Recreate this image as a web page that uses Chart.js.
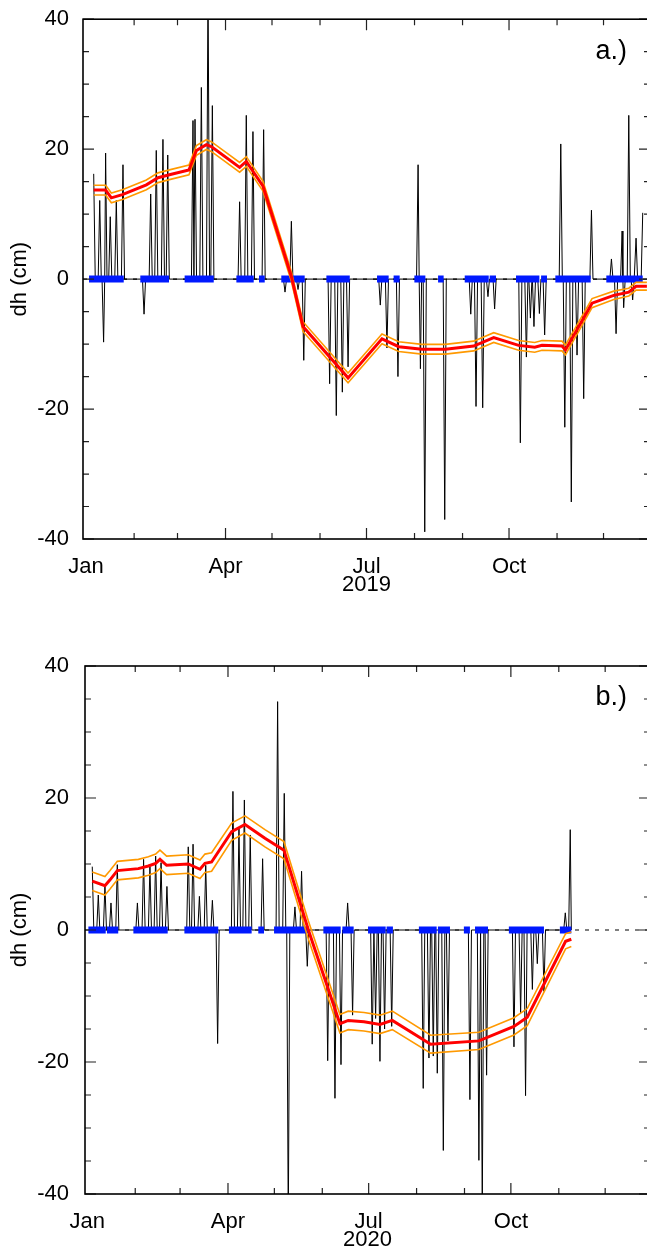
<!DOCTYPE html>
<html lang="en">
<head>
<meta charset="UTF-8">
<title>dh 2019 / 2020</title>
<script src="https://cdn.jsdelivr.net/npm/chart.js"></script>
<style>
    body {
        margin: 0;
        padding: 0;
        background: white;
        overflow: hidden;
    }
    canvas {
        position: absolute;
        left: 0;
    }
</style>
</head>
<body>
<canvas id="chartA" width="652" height="598" style="top:0px"></canvas>
<canvas id="chartB" width="652" height="613" style="top:640px"></canvas>
<script>
    // ticks: first day of each month, only Jan/Apr/Jul/Oct are labelled
    const monthStart2019 = [0, 31, 59, 90, 120, 151, 181, 212, 243, 273, 304, 334];
    const monthStart2020 = [0, 31, 60, 91, 121, 152, 182, 213, 244, 274, 305, 335];
    const monthLabels = ['Jan', '', '', 'Apr', '', '', 'Jul', '', '', 'Oct', '', ''];
    const yMajor = [-40, -20, 0, 20, 40];

    // ---- 2019 (a.) ----
    // daily dh (black), day of year
    const dayA = [4.9, 5.9, 7.8, 8.8, 9.8, 10.3, 11.3, 12.0, 12.6, 13.5, 14.6, 15.6, 16.6, 18.5, 19.5, 20.5, 22.8, 23.8, 24.8,
        36.4, 37.4, 38.4, 40.7, 41.7, 42.7, 44.3, 45.3, 46.3, 48.6, 49.6, 50.6, 51.7, 52.7, 53.7,
        68, 69, 69.6, 70.3, 71.3, 73.4, 74.4, 75.4, 77.7, 78.7, 79.7, 80.5, 81.5, 82.5,
        98.1, 99.1, 100.1, 102.4, 103.4, 104.4, 106.7, 107.7, 108.7,
        113.6, 114.6, 115.6,
        127.4, 128.4, 129.4, 131.5, 132.5, 133.5, 135.8, 136.8, 137.8, 139.5, 140.5, 141.5,
        156.2, 157.2, 158.2, 160.5, 161.5, 162.5, 164.4, 165.4, 166.4, 168.1, 169.1, 170.1,
        188.9, 189.9, 190.9, 193.2, 194.2, 195.2, 200.3, 201.3, 202.3, 213.3, 214.3, 215.0, 215.8, 216.6, 217.6, 218.6, 219.6, 230.5, 231.5, 232.5,
        247.3, 248.3, 249.3, 250.7, 251.7, 252.7, 255, 256, 257, 258.4, 259.4, 260.4, 262.7, 263.7, 264.7,
        279.3, 280.3, 281.3, 283.2, 284.2, 285.2, 285.8, 286.8, 287.8, 288.1, 289.1, 290.1, 291.6, 292.6, 293.6, 295, 296, 297,
        305.4, 306.4, 307.4, 308, 309, 310, 312.2, 313.2, 314.2, 315.9, 316.9, 317.9, 320.2, 321.2, 322.2, 325.2, 326.2, 327.2,
        338.1, 339.1, 340.1, 341.1, 342.1, 343.1, 345, 346, 346.5, 347, 348, 349.3, 350.3, 351.3, 351.8, 352.8, 353.8, 354, 355, 356, 358.3, 359.3];
    const dhA = [16.2, 0, 0, 12.1, 0, 0, -9.7, 0, 19.4, 0, 0, 9.6, 0, 0, 12.1, 0, 0, 17.6, 0,
        0, -5.4, 0, 0, 13.1, 0, 0, 19.8, 0, 0, 21.5, 0, 0, 19.1, 0,
        0, 24.4, 0, 24.6, 0, 0, 29.5, 0, 0, 46, 0, 0, 26.7, 0,
        0, 11.9, 0, 0, 25.2, 0, 0, 22.7, 0,
        0, 23, 0,
        0, -2, 0, 0, 8.9, 0, 0, -1.6, 0, 0, -12.5, 0,
        0, -16.1, 0, 0, -21, 0, 0, -17.4, 0, 0, -13.5, 0,
        0, -4, 0, 0, -10.6, 0, 0, -15, 0, 0, 17.6, 0, -13.8, 0, 0, -38.9, 0, 0, -37, 0,
        0, -5.4, 0, 0, -19.6, 0, 0, -19.8, 0, 0, -2.7, 0, 0, -4.6, 0,
        0, -25.2, 0, 0, -12, 0, 0, -6, 0, 0, -7.3, 0, 0, -5.3, 0, 0, -8.6, 0,
        0, 20.8, 0, 0, -22.8, 0, 0, -34.3, 0, 0, -11.7, 0, 0, -18.4, 0, 0, 10.6, 0,
        0, 3.1, 0, 0, -8.4, 0, 0, 7.4, 0, -4.4, 0, 0, 25.2, 0, 0, -3.2, 0, 0, 6.3, 0, 0, 10.2];
    // smoothed curve (red) and its uncertainty (orange = red +/- err)
    const redDayA = [4.9, 12.6, 16.3, 23.4, 38.9, 46.4, 54.4, 66.4, 71.2, 77.6, 80.8, 99.1, 103.4, 114.2, 132.5, 140, 169.1,
        191, 201.8, 216.8, 231.9, 250.2, 263.1, 279.2, 289.6, 294.3, 307.2, 309.4, 326.6, 340.6, 350.3, 355, 362];
    const redA = [13.7, 13.7, 12.5, 13.0, 14.5, 15.6, 16.1, 16.8, 19.8, 20.7, 20.4, 17.2, 18.1, 14.3, 0.4, -7.3, -15.2,
        -9.2, -10.4, -10.8, -10.8, -10.3, -9.0, -10.2, -10.5, -10.2, -10.3, -10.9, -3.7, -2.5, -2.0, -1.1, -1.1];
    const errA = [0.75, 0.75, 0.75, 0.75, 0.75, 0.75, 0.75, 0.75, 0.75, 0.75, 0.75, 0.75, 0.75, 0.75, 0.75, 0.75, 0.75,
        0.75, 0.75, 0.75, 0.75, 0.75, 0.75, 0.75, 0.75, 0.75, 0.75, 0.75, 0.7, 0.65, 0.6, 0.6, 0.6];
    // blue observation runs at dh = 0 (start / end day)
    const blueStartA = [1.9, 35, 63.6, 97, 111.6, 126, 155.1, 187.8, 198.5, 211.9, 227.2, 244.4, 260.5, 277.5, 293.7, 302.9, 335.8];
    const blueEndA = [24.3, 53.5, 82.4, 108.2, 115.3, 141.1, 170.2, 195.3, 202.4, 219, 230.8, 259.9, 264.6, 292.6, 297.5, 325.7, 359.3];

    // ---- 2020 (b.) ----
    const dayB = [3.2, 4.2, 6.1, 7.1, 8.1, 10.4, 11.4, 12.4, 14.3, 15.3, 16.3, 18.4, 19.4, 20.4,
        31.4, 32.4, 33.4, 35.4, 36.4, 37.4, 39.5, 40.5, 41.5, 43.2, 44.2, 45.2, 46.7, 47.7, 48.7, 50.5, 51.5, 52.5,
        64.3, 65.3, 66.3, 67.4, 68.4, 69.4, 71.5, 72.5, 73.5, 75.6, 76.6, 77.6, 79.9, 80.9, 81.9, 83.3, 84.3, 85.3,
        93.2, 94.2, 95.2, 97.1, 98.1, 99.1, 100.6, 101.6, 102.6, 104.4, 105.4, 106.4, 112.4, 113.4, 114.4,
        122.1, 123.1, 124.1, 126.4, 127.4, 128.4, 129, 130, 131, 133.3, 134.3, 135.3, 137.6, 138.6, 139.6, 141.3, 142.3, 143.3,
        154.5, 155.5, 156.5, 159.2, 160.2, 161.2, 163.1, 164.1, 165.1, 167.4, 168.4, 169.4, 170.6, 171.6, 172.6,
        183.3, 184.3, 185.4, 186.5, 187.5, 188.3, 189.3, 190.3, 191.3, 192.3, 193.3, 195.9, 196.9, 197.9,
        216.3, 217.3, 218.3, 220, 221, 222, 222.8, 223.8, 224.8, 225.4, 226.4, 227.4, 229.3, 230.3, 231.3, 232.3, 233.3, 234.3,
        246.5, 247.5, 248.5, 252.3, 253.3, 254.4, 255.5, 256.5, 257.3, 258.3, 259.3,
        275, 276, 277, 279.3, 280.3, 281.3, 282.5, 283.5, 284.5, 286.9, 287.9, 288.9, 290.1, 291.1, 292.1, 294.4, 295.4, 296.4,
        308.2, 309.2, 310.2, 311.4, 312.4, 313.1];
    const dhB = [9.6, 0, 0, 5.3, 0, 0, 6.8, 0, 0, 4.1, 0, 0, 9.9, 0,
        0, 4.1, 0, 0, 10.7, 0, 0, 9.6, 0, 0, 11.2, 0, 0, 10.2, 0, 0, 6.6, 0,
        0, 12.6, 0, 0, 13, 0, 0, 5.1, 0, 0, 9.8, 0, 0, 4.5, 0, 0, -17.2, 0,
        0, 21, 0, 0, 15.3, 0, 0, 19.7, 0, 0, 14.4, 0, 0, 10.8, 0,
        0, 34.6, 0, 0, 20.7, 0, 0, -45, 0, 0, 3.5, 0, 0, 8.9, 0, 0, -5.5, 0,
        0, -19.8, 0, 0, -25.5, 0, 0, -20.4, 0, 0, 4.1, 0, 0, -12.9, 0,
        0, -17.3, 0, -13.4, 0, 0, -19.9, 0, 0, -15, 0, 0, -14.6, 0,
        0, -24, 0, 0, -19.4, 0, 0, -19.1, 0, 0, -21.7, 0, 0, -33.4, 0, 0, -16.8, 0,
        0, -25.7, 0, 0, -34.9, 0, -42, 0, 0, -22, 0,
        0, -17.7, 0, 0, -12.6, 0, 0, -25.1, 0, 0, -9, 0, 0, -5.1, 0, 0, -9.3, 0,
        0, 2.6, 0, 0, 15.2, 0];
    const redDayB = [3.2, 11.4, 14.7, 19.4, 33, 39.5, 44.2, 47, 51.3, 65.3, 72.9, 76.1, 80.4, 93.4, 102, 114.9, 127.2, 143,
        163.4, 168.8, 179, 189.3, 197.3, 222.1, 253.3, 276, 284.6, 309.4, 313.1];
    const redB = [7.4, 6.7, 7.6, 9.0, 9.3, 9.7, 10.1, 10.7, 9.8, 10.0, 9.2, 10.1, 10.3, 14.9, 16.0, 13.9, 12.1, 0,
        -14.2, -13.7, -13.9, -14.3, -13.7, -17.3, -16.8, -14.6, -13.2, -1.7, -1.4];
    const errB = [1.4, 1.4, 1.4, 1.4, 1.4, 1.4, 1.4, 1.4, 1.4, 1.4, 1.4, 1.4, 1.4, 1.3, 1.3, 1.3, 1.3, 1.35,
        1.4, 1.4, 1.4, 1.4, 1.4, 1.35, 1.3, 1.3, 1.3, 1.15, 1.1];
    const blueStartB = [0.7, 12.7, 29.8, 62.8, 91.6, 110.6, 120.8, 152.7, 165, 181.6, 193.6, 214.5, 226.8, 243.6, 250.8, 272.7, 305.7];
    const blueEndB = [11.9, 20, 52, 84.7, 106.3, 114.3, 143, 163.9, 172.3, 193, 197.7, 226, 234.6, 247.5, 259.2, 295.4, 313.1];

    Chart.defaults.color = 'black';
    Chart.defaults.font.family = '"Liberation Sans", Arial, Helvetica, sans-serif';

    // frame with inward ticks on all four sides + panel letter
    const frameTicks = {
        id: 'frameTicks',
        afterDraw(chart, args, opts) {
            const ctx = chart.ctx;
            const a = chart.chartArea;
            const xs = chart.scales.x;
            const ys = chart.scales.y;
            ctx.save();
            ctx.strokeStyle = '#222';
            ctx.lineWidth = 1.2;
            ctx.beginPath();
            for (let v = -40; v <= 40; v += 5) {
                const y = ys.getPixelForValue(v);
                const len = (v % 20 === 0) ? 11 : 6;
                ctx.moveTo(a.left, y); ctx.lineTo(a.left + len, y);
                ctx.moveTo(a.right, y); ctx.lineTo(a.right - len, y);
            }
            opts.months.forEach((d, i) => {
                const x = xs.getPixelForValue(d);
                if (x < a.left + 4) return;
                const len = monthLabels[i] ? 11 : 6;
                ctx.moveTo(x, a.bottom); ctx.lineTo(x, a.bottom - len);
                ctx.moveTo(x, a.top); ctx.lineTo(x, a.top + len);
            });
            ctx.stroke();
            ctx.strokeStyle = 'black';
            ctx.lineWidth = 1.6;
            ctx.strokeRect(a.left, a.top, a.right - a.left, a.bottom - a.top);
            ctx.fillStyle = 'black';
            ctx.font = '27px "Liberation Sans", Arial, sans-serif';
            ctx.textAlign = 'right';
            ctx.textBaseline = 'middle';
            ctx.fillText(opts.label, a.right - 23, a.top + 32);
            ctx.restore();
        }
    };

    function points(xs, ys) {
        return xs.map((x, i) => ({ x: x, y: ys[i] }));
    }

    function makePanel(id, p) {
        var red = points(p.redDay, p.red);
        var upper = p.redDay.map((x, i) => ({ x: x, y: p.red[i] + p.err[i] }));
        var lower = p.redDay.map((x, i) => ({ x: x, y: p.red[i] - p.err[i] }));
        var blue = [];
        for (var i = 0; i < p.blueStart.length; i++) {
            blue.push({ x: p.blueStart[i], y: 0 }, { x: p.blueEnd[i], y: 0 }, { x: p.blueEnd[i], y: null });
        }
        var zero = [{ x: p.xMin, y: 0 }, { x: p.xMax, y: 0 }];

        return new Chart(document.getElementById(id), {
            type: 'line',
            data: {
                datasets: [
                    { data: red, borderColor: '#ff0000', borderWidth: 3, order: 0 },
                    { data: upper, borderColor: '#ff9900', borderWidth: 1.6, order: 1 },
                    { data: lower, borderColor: '#ff9900', borderWidth: 1.6, order: 1 },
                    { data: blue, borderColor: 'rgb(0,25,255)', borderWidth: 7, borderCapStyle: 'butt', spanGaps: false, order: 2 },
                    { data: points(p.day, p.dh), borderColor: 'black', borderWidth: 1, clip: 0, order: 3 },
                    { data: zero, borderColor: 'black', borderWidth: 1.2, borderDash: [4, 6], order: 4 }
                ]
            },
            options: {
                responsive: false,
                animation: false,
                layout: { padding: { top: p.padTop, right: 2, left: 0, bottom: 0 } },
                elements: {
                    point: { radius: 0 },
                    line: { tension: 0, fill: false }
                },
                plugins: {
                    legend: { display: false },
                    tooltip: { enabled: false },
                    frameTicks: { months: p.months, label: p.label }
                },
                scales: {
                    x: {
                        type: 'linear',
                        min: p.xMin,
                        max: p.xMax,
                        grid: { display: false },
                        border: { display: false },
                        afterBuildTicks: (s) => { s.ticks = p.months.map(v => ({ value: v })); },
                        afterFit: (s) => { s.height = 59; },
                        ticks: {
                            autoSkip: false,
                            maxRotation: 0,
                            padding: 7,
                            font: { size: 22 },
                            callback: (v, i) => monthLabels[i]
                        },
                        title: { display: true, text: p.year, font: { size: 22 }, padding: 0 }
                    },
                    y: {
                        min: -40,
                        max: 40,
                        grid: { display: false },
                        border: { display: false },
                        afterBuildTicks: (s) => { s.ticks = yMajor.map(v => ({ value: v })); },
                        afterFit: (s) => { s.width = p.left; },
                        ticks: { padding: p.left - 77, font: { size: 22 } },
                        title: { display: true, text: 'dh (cm)', font: { size: 22 }, padding: { top: 7, bottom: 0 } }
                    }
                }
            },
            plugins: [frameTicks]
        });
    }

    makePanel('chartA', {
        day: dayA, dh: dhA, redDay: redDayA, red: redA, err: errA,
        blueStart: blueStartA, blueEnd: blueEndA,
        months: monthStart2019, xMin: -2, xMax: 364,
        year: '2019', label: 'a.)', padTop: 13, left: 83
    });
    makePanel('chartB', {
        day: dayB, dh: dhB, redDay: redDayB, red: redB, err: errB,
        blueStart: blueStartB, blueEnd: blueEndB,
        months: monthStart2020, xMin: -1.5, xMax: 364,
        year: '2020', label: 'b.)', padTop: 26, left: 85
    });
</script>
</body>
</html>
